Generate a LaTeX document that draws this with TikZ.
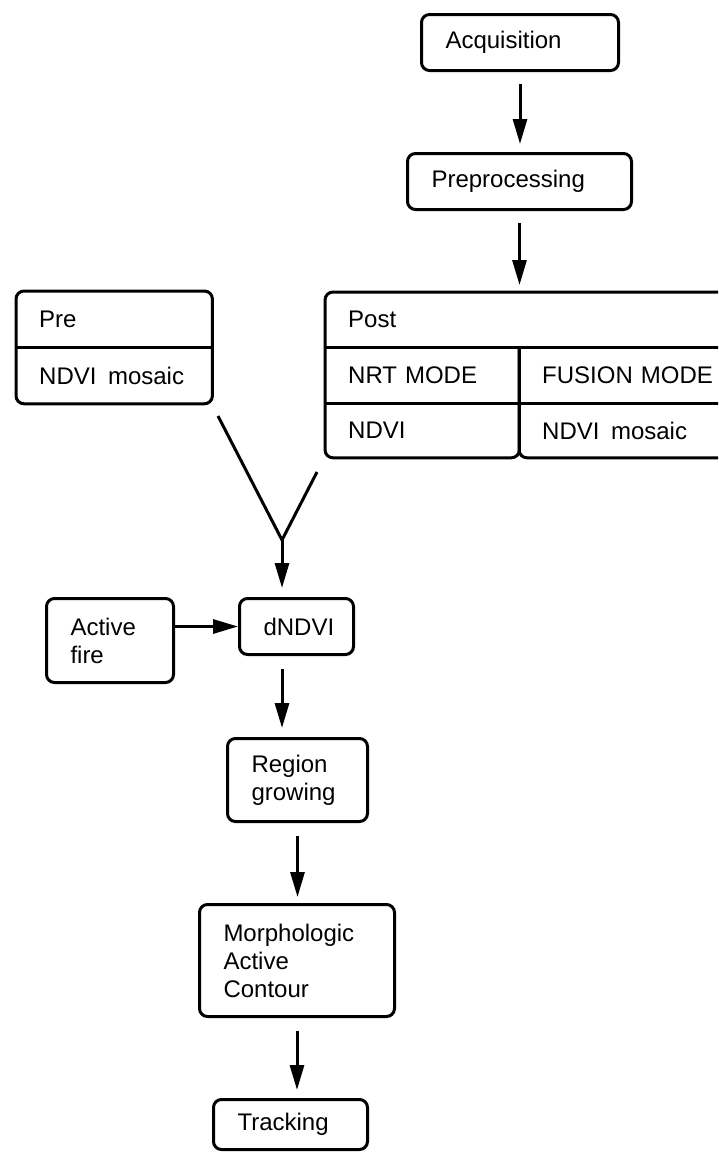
\documentclass[tikz,border=0pt]{standalone}
\usepackage{fontspec}
\setmainfont{Liberation Sans}
\usetikzlibrary{arrows.meta,positioning}

\begin{document}
\begin{tikzpicture}[x=1pt,y=-1pt]
    \tikzstyle{box}=[draw, line width=3pt, rounded corners=8pt, anchor=north west,
      align=left, inner xsep=24pt, inner ysep=0pt, font=\fontsize{24}{28}\selectfont]
    \tikzstyle{cell}=[anchor=north west, align=left, inner xsep=23pt, inner ysep=0pt,
      font=\fontsize{24}{28}\selectfont]
    \tikzstyle{edge}=[line width=3pt]
    \tikzstyle{arr}=[edge, -{Triangle[length=25pt,width=14pt]}]
    \clip (0,0) rectangle (718,1152);
    % upper chain
    \node[box, text width=149pt, minimum height=56pt] (acq) at (420,13) {Acquisition};
    \node[box, text width=176pt, minimum height=56pt] (prep) at (406,152) {Preprocessing};
    % pre table
    \node[cell, text width=150pt, minimum height=56pt] (pre) at (16,291) {Pre};
    \node[cell, text width=150pt, minimum height=56pt, below=0pt of pre] (premos) {NDVI\hspace{11.5pt}mosaic};
    \draw[edge, rounded corners=8pt] (pre.north west) rectangle (premos.south east);
    \draw[edge] (pre.south west) -- (pre.south east);
    % post table
    \node[cell, text width=389pt, minimum height=55pt] (post) at (325,292) {Post};
    \node[cell, text width=148pt, minimum height=56pt] (nrt) at (325,347) {NRT MODE};
    \node[cell, text width=195pt, minimum height=56pt] (fus) at (519,347) {FUSION MODE};
    \node[cell, text width=148pt, minimum height=54pt, below=0pt of nrt] (nrtval) {NDVI};
    \node[cell, text width=195pt, minimum height=54pt, below=0pt of fus] (fusval) {NDVI\hspace{11.5pt}mosaic};
    \draw[edge, rounded corners=8pt] (post.south west) -- (post.north west) -- (post.north east) -- (post.south east);
    \draw[edge] (post.south west) -- (post.south east);
    \draw[edge, rounded corners=8pt] (nrt.north west) -- (nrtval.south west) -- (nrtval.south east) -- (nrt.north east);
    \draw[edge, rounded corners=8pt] (fus.north west) -- (fusval.south west) -- (fusval.south east) -- (fus.north east);
    \draw[edge] (nrt.south west) -- (fus.south east);
    % lower chain
    \node[box, text width=79pt, minimum height=84pt] (fire) at (45,597) {Active\\fire};
    \node[box, text width=66pt, minimum height=56pt] (dndvi) at (238,597) {dNDVI};
    \node[box, text width=92pt, minimum height=83pt] (region) at (226,737) {Region\\growing};
    \node[box, text width=147pt, minimum height=112pt] (morph) at (198,903) {Morphologic\\Active\\Contour};
    \node[box, text width=106pt, minimum height=50pt] (track) at (212,1098) {Tracking};
    % merge of pre and post
    \coordinate (ja) at (218,416);
    \coordinate (jb) at (317,472);
    \coordinate (jn) at (282,540);
    \draw[edge] (ja) -- (jn) -- (jb);
    % arrows
    \draw[arr, shorten <=12pt, shorten >=8pt] (acq.south) -- (acq.south |- prep.north);
    \draw[arr, shorten <=12pt, shorten >=7pt] (prep.south) -- (prep.south |- post.north);
    \draw[arr, shorten >=9pt] (jn) -- (jn |- dndvi.north);
    \draw[arr] (fire.east |- dndvi.west) -- (dndvi.west);
    \draw[arr, shorten <=13pt, shorten >=9pt] (jn |- dndvi.south) -- (jn |- region.north);
    \draw[arr, shorten <=13pt, shorten >=6pt] (region.south) -- (region.south |- morph.north);
    \draw[arr, shorten <=13pt, shorten >=8pt] (morph.south) -- (morph.south |- track.north);
\end{tikzpicture}
\end{document}
